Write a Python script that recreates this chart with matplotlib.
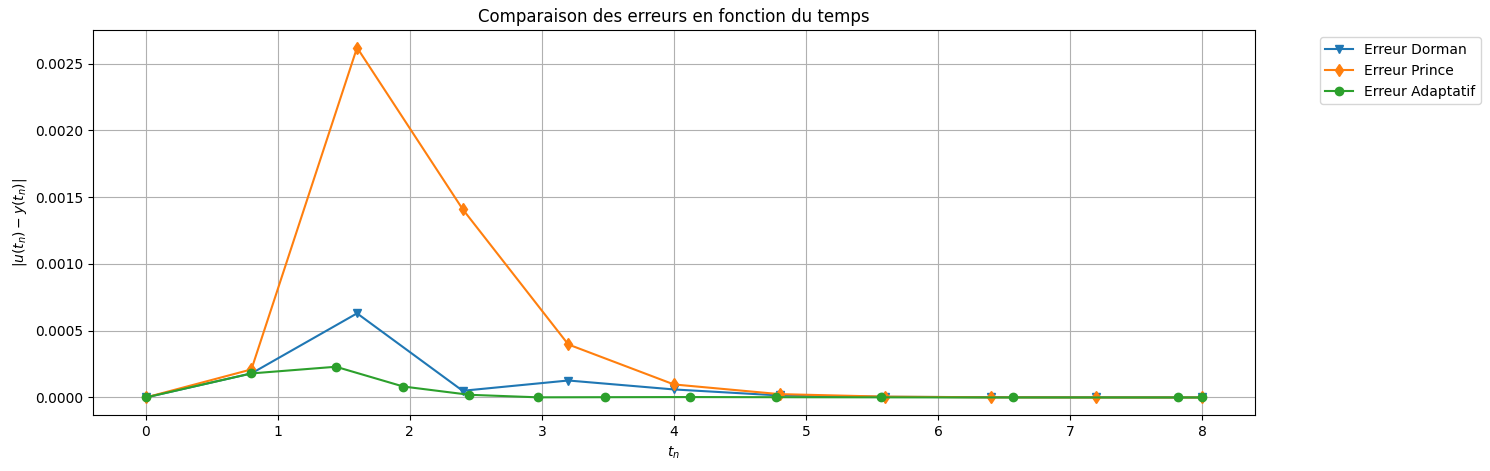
import numpy as np
import matplotlib
matplotlib.use("Agg")
from matplotlib import pyplot as plt

# Fixed-step times (Dorman / Prince)
t_fixe = [0.0, 0.8, 1.6, 2.4, 3.2, 4.0, 4.8, 5.6, 6.4, 7.2, 8.0]
err_dorman = [0.0, 0.00018, 0.00063, 0.00005, 0.000127, 0.00006, 0.000015, 0.000005, 0.000002, 0.000001, 0.0]
err_prince = [0.0, 0.00021, 0.00262, 0.00141, 0.000397, 0.0000975, 0.000025, 0.000006, 0.000001, 0.0, 0.0]

# Adaptive step times
t_adapt = [0.0, 0.8, 1.44, 1.95, 2.45, 2.97, 3.48, 4.12, 4.77, 5.57, 6.57, 7.82, 8.0]
err_adapt = [0.0, 0.00018, 0.00023, 0.000082, 0.00002, 0.000001, 0.000002, 0.000003, 0.000002, 0.000001, 0.0, 0.0, 0.0]

fig = plt.figure(figsize=(14.9, 4.71), dpi=100)
ax = fig.add_axes([0.0624, 0.119, 0.7798, 0.817])

ax.plot(t_fixe, err_dorman, "v-", label="Erreur Dorman")
ax.plot(t_fixe, err_prince, "d-", label="Erreur Prince")
ax.plot(t_adapt, err_adapt, "o-", label="Erreur Adaptatif")

ax.set_xlabel("$t_n$")
ax.set_ylabel("$|u(t_n) - y(t_n)|$")
ax.set_title("Comparaison des erreurs en fonction du temps")
ax.grid(True)
ax.legend(bbox_to_anchor=(1.05, 1), loc="upper left")

fig.savefig("out.png")
